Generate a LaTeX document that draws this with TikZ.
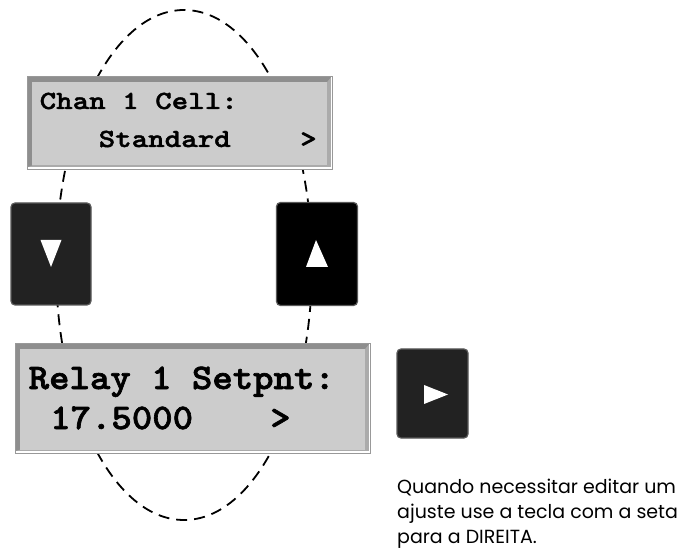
\documentclass[tikz,border=0pt]{standalone}
\usepackage{fontspec}
\newfontfamily\lcdsmall{lmmonolt10-bold.otf}[FakeStretch=1.2,FakeBold=1.6]
\newfontfamily\lcdlarge{lmmonolt10-bold.otf}[FakeStretch=1.08,FakeBold=1.8]
\newfontfamily\notefont{Poppins}
\definecolor{lcdface}{HTML}{CCCCCC}
\definecolor{lcddark}{HTML}{8E8E8E}
\definecolor{lcdlight}{HTML}{ABABAB}
\definecolor{keydark}{HTML}{222222}
\begin{document}
\begin{tikzpicture}[x=1pt,y=-1pt,
  loop/.style={dashed, dash pattern=on 11pt off 7pt, line width=1.8pt},
  lcd/.style={draw=gray!80, line width=0.7pt, fill=white, inner sep=0pt,
    path picture={
      \fill[lcdlight] ([shift={(1.2,1.2)}]path picture bounding box.north west)
        rectangle ([shift={(-1.2,-2.2)}]path picture bounding box.south east);
      \fill[lcddark] ([shift={(1.2,1.2)}]path picture bounding box.north west)
        -- ([shift={(-1.2,1.2)}]path picture bounding box.north east)
        -- ([shift={(-5,6)}]path picture bounding box.north east)
        -- ([shift={(5,6)}]path picture bounding box.north west)
        -- ([shift={(5,-3.5)}]path picture bounding box.south west)
        -- ([shift={(1.2,-2.2)}]path picture bounding box.south west) -- cycle;
      \fill[lcdface] ([shift={(5,6)}]path picture bounding box.north west)
        rectangle ([shift={(-5,-3.5)}]path picture bounding box.south east);
    }},
  key/.style={rounded corners=4pt, draw=gray!70!black, line width=1.2pt, inner sep=0pt},
  smalltxt/.style={inner sep=0pt, anchor=base west, font=\lcdsmall\fontsize{26.2}{30}\selectfont},
  largetxt/.style={inner sep=0pt, anchor=base west, font=\lcdlarge\fontsize{36}{40}\selectfont},
  arrowtip/.style={fill=white}
]
\useasboundingbox (0,0) rectangle (697,556);

% dashed loop joining the two displays through the keys
\draw[loop] (184,265) ellipse [x radius=128, y radius=255];

% upper display
\node[lcd, minimum width=305pt, minimum height=93pt] (celldisp) at (179.5,122.5) {};
\node[smalltxt] (cellA) at (39.5,109) {Chan 1 Cell:};
\node[smalltxt] (cellB) at (98.5,147) {Standard};
\node[smalltxt] (cellC) at (300,147) {>};

% lower display
\node[lcd, minimum width=355pt, minimum height=110pt] (relaydisp) at (192.5,398) {};
\node[largetxt] (relayA) at (28.5,389) {Relay 1 Setpnt:};
\node[largetxt] (relayB) at (50,429) {17.5000};
\node[largetxt] (relayC) at (270,429) {>};

% navigation keys
\node[key, fill=keydark, minimum width=80pt, minimum height=102pt] (downkey) at (51,254) {};
\fill[arrowtip] ([shift={(-10.5,-14)}]downkey.center) -- ([shift={(10.5,-14)}]downkey.center)
  -- ([shift={(0,13)}]downkey.center) -- cycle;

\node[key, fill=black, minimum width=81pt, minimum height=103pt] (upkey) at (317,254) {};
\fill[arrowtip] ([shift={(-11,13)}]upkey.center) -- ([shift={(11,13)}]upkey.center)
  -- ([shift={(-1,-14)}]upkey.center) -- cycle;

\node[key, fill=keydark, minimum width=71pt, minimum height=89pt] (rightkey) at (432.5,393.5) {};
\fill[arrowtip] ([shift={(-8.5,-8.5)}]rightkey.center) -- ([shift={(-8.5,10.5)}]rightkey.center)
  -- ([shift={(15.5,1)}]rightkey.center) -- cycle;

% note beside the right key
\node[inner sep=0pt, anchor=base west, align=left,
  font=\notefont\fontsize{19}{25}\selectfont] (note) at (397,543)
  {Quando necessitar editar um\\ajuste use a tecla com a seta\\para a DIREITA.};
\end{tikzpicture}
\end{document}
